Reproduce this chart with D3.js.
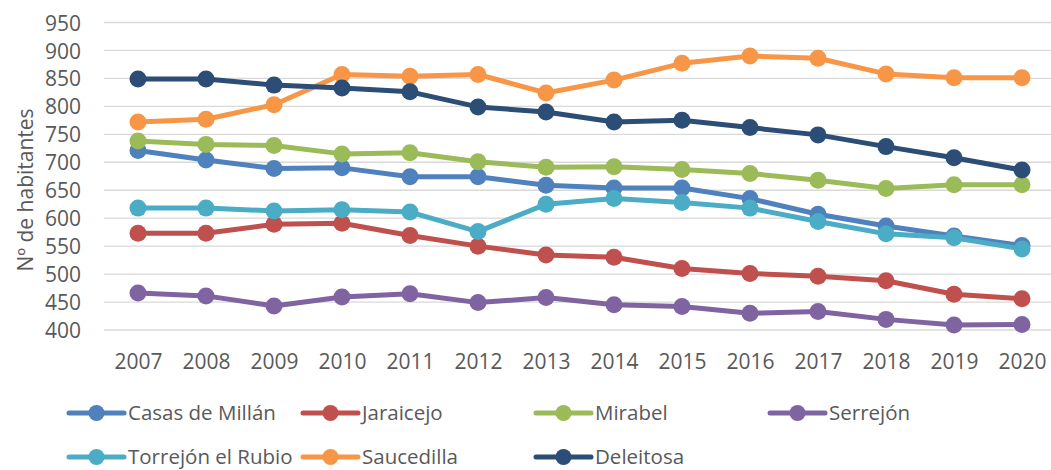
<!DOCTYPE html>
<html><head><meta charset="utf-8">
<script src="https://cdn.jsdelivr.net/npm/d3@7"></script>
<style>body{margin:0;background:#fff;}svg{display:block;font-family:"Open Sans",sans-serif;}</style>
</head><body><svg id="c" width="1051" height="470"></svg>
<script>
const years = ["2007","2008","2009","2010","2011","2012","2013","2014","2015","2016","2017","2018","2019","2020"];
const yTicks = [400,450,500,550,600,650,700,750,800,850,900,950];
const seriesNames = ["Casas de Millán","Jaraicejo","Mirabel","Serrejón","Torrejón el Rubio","Saucedilla","Deleitosa"];
const seriesColors = ["#4f81bd","#c0504d","#9bbb59","#8064a2","#4bacc6","#f79646","#2c4d75"];
const casasDeMillan = [721,704,689,690,674,674,659,654,654,635,607,586,568,551];
const jaraicejo = [573,573,589,591,569,550,534,530,510,501,496,488,464,456];
const mirabel = [738,732,730,715,717,701,691,692,687,680,668,653,660,660];
const serrejon = [466,461,443,459,465,449,458,445,442,430,433,419,409,410];
const torrejon = [618,618,613,615,611,576,625,635,628,618,594,572,565,545];
const saucedilla = [772,777,803,857,854,857,824,847,877,890,886,858,851,851];
const deleitosa = [849,849,838,833,826,799,790,772,775,762,749,728,708,686];
const allValues = [casasDeMillan,jaraicejo,mirabel,serrejon,torrejon,saucedilla,deleitosa];
const yLabel = "Nº de habitantes";

const svg = d3.select("#c");
const x = d3.scalePoint().domain(years).range([138,1022]);
const y = d3.scaleLinear().domain([400,950]).range([330,22.5]);

// gridlines
svg.append("g").selectAll("line").data(yTicks).join("line")
  .attr("x1",104).attr("x2",1051)
  .attr("y1",d=>y(d)).attr("y2",d=>y(d))
  .attr("stroke","#d9d9d9").attr("stroke-width",1.3);

// y axis labels
const yAxis = d3.axisLeft(y).tickValues(yTicks).tickSize(0).tickPadding(0);
const gy = svg.append("g").attr("transform","translate(81,0)").call(yAxis);
gy.select(".domain").remove();
gy.selectAll("text").attr("fill","#595959").style("font-size","21px").style("font-family","'Open Sans',sans-serif").attr("dy","0.36em");

// x axis labels
const xAxis = d3.axisBottom(x).tickSize(0).tickPadding(0);
const gx = svg.append("g").attr("transform","translate(0,369)").call(xAxis);
gx.select(".domain").remove();
gx.selectAll("text").attr("fill","#595959").style("font-size","21px").style("font-family","'Open Sans',sans-serif").attr("y",0).attr("dy","0");

// y label
svg.append("text").attr("transform","translate(33,190) rotate(-90)")
  .attr("text-anchor","middle").attr("fill","#595959")
  .style("font-size","21px").text(yLabel);

const line = d3.line().x((d,i)=>x(years[i])).y(d=>y(d));
allValues.forEach((vals,k)=>{
  const g = svg.append("g");
  g.append("path").datum(vals).attr("d",line).attr("fill","none")
    .attr("stroke",seriesColors[k]).attr("stroke-width",5).attr("stroke-linejoin","round");
  g.selectAll("circle").data(vals).join("circle")
    .attr("cx",(d,i)=>x(years[i])).attr("cy",d=>y(d)).attr("r",8.5)
    .attr("fill",seriesColors[k]);
});

// legend
const legendPos = [[69,413],[303,413],[536,413],[770,413],[69,457],[303,457],[536,457]];
seriesNames.forEach((name,k)=>{
  const [lx,ly] = legendPos[k];
  const g = svg.append("g");
  g.append("line").attr("x1",lx).attr("x2",lx+55).attr("y1",ly).attr("y2",ly)
    .attr("stroke",seriesColors[k]).attr("stroke-width",5).attr("stroke-linecap","round");
  g.append("circle").attr("cx",lx+27.5).attr("cy",ly).attr("r",8).attr("fill",seriesColors[k]);
  g.append("text").attr("x",lx+59).attr("y",ly).attr("dy","0.34em")
    .attr("fill","#595959").style("font-size","20.5px").text(name);
});
</script></body></html>
